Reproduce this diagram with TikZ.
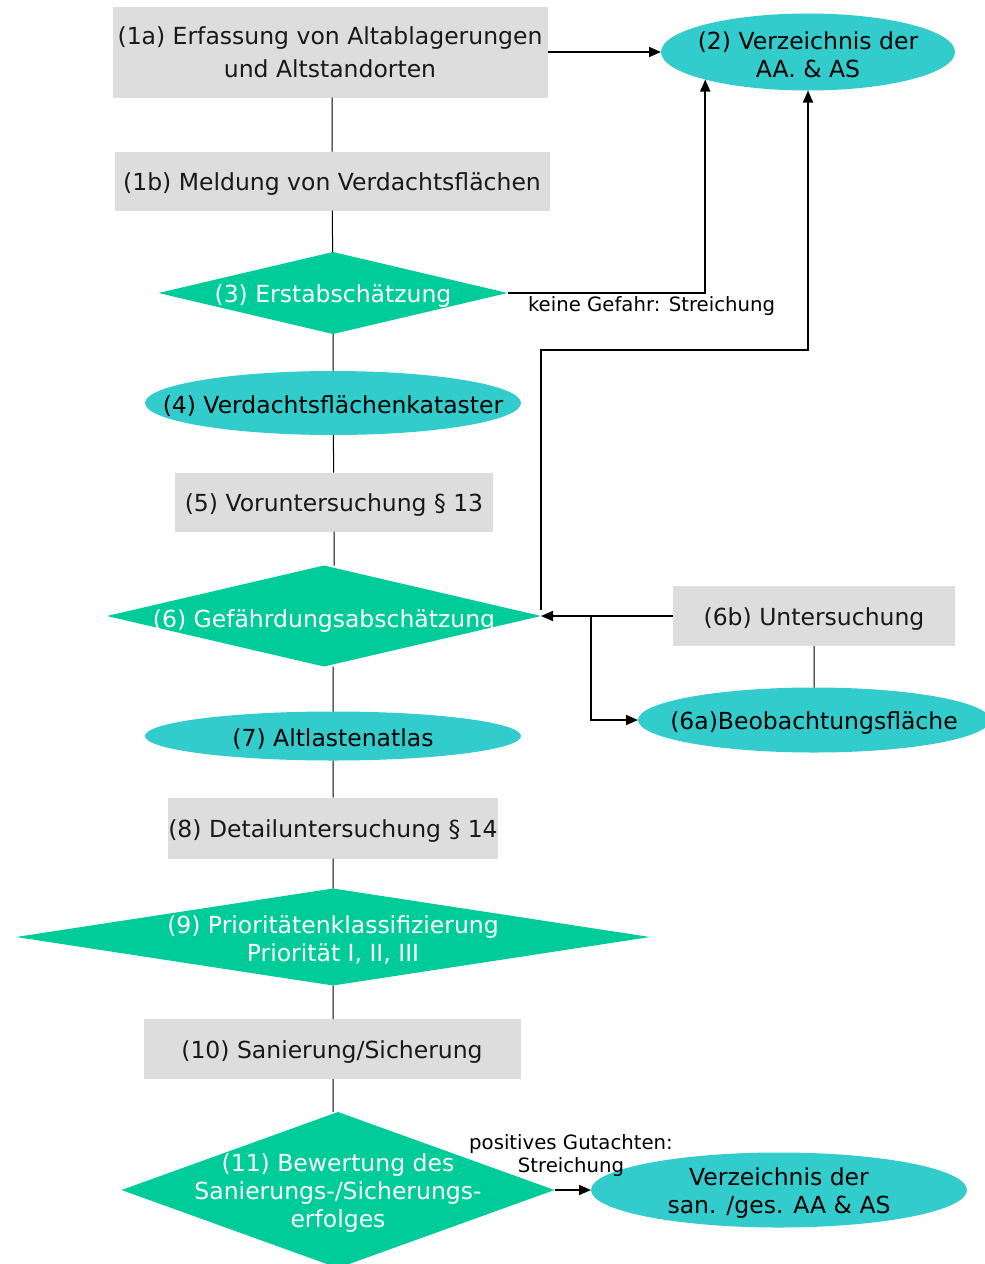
\documentclass[tikz,border=0pt]{standalone}
\usepackage{fontspec}
\setmainfont{DejaVu Sans}
\usetikzlibrary{arrows.meta,positioning,shapes.geometric}
\definecolor{grau}{HTML}{DDDDDD}
\definecolor{tuerkis}{HTML}{33CCCC}
\definecolor{gruen}{HTML}{00CC99}

\begin{document}
\begin{tikzpicture}[x=1pt,y=-1pt,
every node/.style={inner sep=0pt,outer sep=0pt,align=center,
  font=\fontsize{23.5}{28}\selectfont},
kasten/.style={rectangle,fill=grau,text=black!90,text height=24pt,text depth=5pt},
oval/.style={ellipse,fill=tuerkis},
raute/.style={diamond,fill=gruen},
txt/.style={yshift=-3pt},
weiss/.style={txt,text=white},
notiz/.style={font=\fontsize{19.7}{23}\selectfont},
linie/.style={line width=1pt},
pfeil/.style={-{Triangle[length=12pt,width=10pt]},line width=1.7pt}]
\useasboundingbox (0,0) rectangle (985,1264);
% linke Spalte
\node[fill=grau,text=black!90,minimum width=435pt,minimum height=91pt,
  font=\fontsize{23.5}{33}\selectfont] (A1a) at (330,52)
  {(1a) Erfassung von Altablagerungen\\und Altstandorten};
\node[kasten,minimum width=435pt,minimum height=59pt] (A1b) at (332,181)
  {(1b) Meldung von Verdachtsflächen};
\node[raute,minimum width=349pt,minimum height=82pt] (A3) at (333,293) {};
\node[weiss] (T3) at (A3) {(3) Erstabschätzung};
\node[oval,minimum width=376pt,minimum height=64pt] (A4) at (333,403) {};
\node[txt] (T4) at (A4) {(4) Verdachtsflächenkataster};
\node[kasten,minimum width=318pt,minimum height=59pt] (A5) at (334,502)
  {(5) Voruntersuchung § 13};
\node[raute,minimum width=434pt,minimum height=101pt] (A6) at (324,616) {};
\node[weiss] (T6) at ([yshift=-2pt]A6) {(6) Gefährdungsabschätzung};
\node[oval,minimum width=376pt,minimum height=49pt] (A7) at (333,736) {};
\node[txt] (T7) at (A7) {(7) Altlastenatlas};
\node[kasten,minimum width=330pt,minimum height=61pt] (A8) at (333,828)
  {(8) Detailuntersuchung § 14};
\node[raute,minimum width=634pt,minimum height=97pt] (A9) at (333,937) {};
\node[weiss] (T9) at (A9) {(9) Prioritätenklassifizierung\\Priorität I, II, III};
\node[kasten,minimum width=377pt,minimum height=60pt] (A10) at (332,1049)
  {(10) Sanierung/Sicherung};
\node[raute,minimum width=433pt,minimum height=156pt] (A11) at (338,1190) {};
\node[weiss] (T11) at (A11) {(11) Bewertung des\\Sanierungs-/Sicherungs-\\erfolges};
% rechte Seite
\node[oval,minimum width=294pt,minimum height=77pt] (A2) at (808,52) {};
\node[txt] (T2) at (A2) {(2) Verzeichnis der\\AA. \& AS};
\node[notiz,anchor=west] (L3) at (528,306) {keine Gefahr: Streichung};
\node[kasten,minimum width=282pt,minimum height=60pt] (A6b) at (814,616)
  {(6b) Untersuchung};
\node[oval,minimum width=352pt,minimum height=65pt] (A6a) at (814,720) {};
\node[txt] (T6a) at (A6a) {(6a)Beobachtungsfläche};
\node[oval,minimum width=376pt,minimum height=75pt] (A12) at (779,1190) {};
\node[txt] (T12) at (A12) {Verzeichnis der\\san. /ges. AA \& AS};
\node[notiz] (L11) at (571,1156) {positives Gutachten:\\Streichung};
\coordinate (K6) at (808,350);
\coordinate[right=50pt of A6.east] (V6);
% Verbindungen
\draw[linie] (A1b |- A1a.south) -- (A1b) (A1b) -- (A3) (A3) -- (A4) (A4) -- (A5)
  (A5) -- (A5 |- A6.north) (A7 |- A6.south) -- (A7) (A7) -- (A8)
  (A8) -- (A9) (A9) -- (A9 |- A10.north) (A9 |- A10.south) -- (A9 |- A11.north)
  (A6b) -- (A6a);
\draw[pfeil] (A1a) -- (A2);
\draw[pfeil] (A3.east) -| (A2.195);
\draw[pfeil] ([yshift=6pt]A6.east) |- (K6) -- (A2.south);
\draw[pfeil] (A6b) -- (A6);
\draw[pfeil] (V6) |- (A6a);
\draw[pfeil] (A11) -- (A12);
\end{tikzpicture}
\end{document}
